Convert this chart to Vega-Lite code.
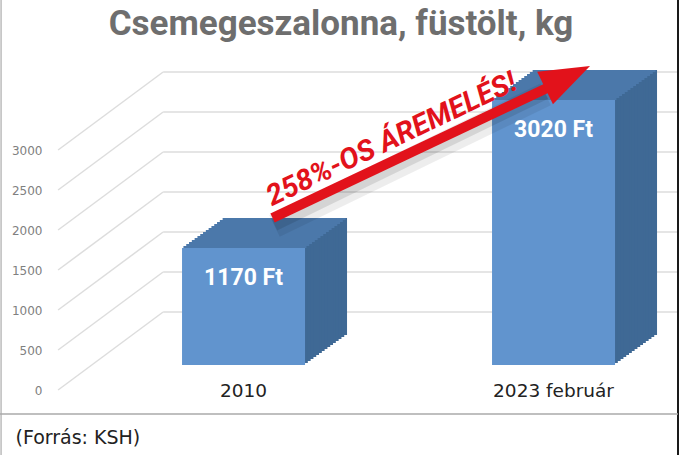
{
  "$schema": "https://vega.github.io/schema/vega-lite/v6.json",
  "autosize": {"type": "none"},
  "padding": {"left": 58, "top": 50, "right": 7, "bottom": 65},
  "width": 620,
  "height": 340,
  "background": "white",
  "config": {"view": {"stroke": null}},
  "title": {
    "text": "Csemegeszalonna, füstölt, kg",
    "font": "Roboto",
    "fontSize": 35,
    "fontWeight": "bold",
    "color": "#6e6e6e",
    "anchor": "middle",
    "baseline": "alphabetic",
    "dx": -27,
    "offset": -71
  },
  "data": {"values": [{"period": "2010", "price": 1170}, {"period": "2023 február", "price": 3020}]},
  "layer": [
    {
      "data": {"values": [{"level": 0}, {"level": 500}, {"level": 1000}, {"level": 1500}, {"level": 2000}, {"level": 2500}, {"level": 3000}]},
      "mark": {"type": "rule", "color": "#dddddd", "strokeWidth": 1.5, "yOffset": 48.4, "y2Offset": -29.6},
      "encoding": {
        "x": {"datum": "2010", "type": "nominal", "bandPosition": -0.245},
        "x2": {"datum": "2010", "bandPosition": 0.177},
        "y": {"field": "level", "type": "quantitative"},
        "y2": {"field": "level"}
      }
    },
    {
      "data": {"values": [{"level": 0}, {"level": 500}, {"level": 1000}, {"level": 1500}, {"level": 2000}, {"level": 2500}, {"level": 3000}]},
      "mark": {"type": "rule", "color": "#dddddd", "strokeWidth": 1.5, "yOffset": -29.6, "y2Offset": -29.6},
      "encoding": {
        "x": {"datum": "2010", "type": "nominal", "bandPosition": 0.177},
        "x2": {"datum": "2023 február", "bandPosition": 1},
        "y": {"field": "level", "type": "quantitative"},
        "y2": {"field": "level"}
      }
    },
    {
      "data": {"values": [{}]},
      "mark": {"type": "rule", "color": "#bbbbbb", "strokeWidth": 1.5},
      "encoding": {
        "x": {"datum": "2010", "type": "nominal", "bandPosition": -0.474},
        "y": {"datum": 4270, "type": "quantitative"},
        "y2": {"datum": -1417}
      }
    },
    {
      "data": {"values": [{}]},
      "mark": {"type": "rule", "color": "#1a1a1a", "strokeWidth": 2},
      "encoding": {
        "x": {"datum": "2023 február", "type": "nominal", "bandPosition": 1},
        "y": {"datum": 4270, "type": "quantitative"},
        "y2": {"datum": -1417}
      }
    },
    {
      "data": {"values": [{}]},
      "mark": {"type": "rule", "color": "#aaaaaa", "strokeWidth": 1.5},
      "encoding": {
        "x": {"datum": "2010", "type": "nominal", "bandPosition": -0.5},
        "x2": {"datum": "2023 február", "bandPosition": 1},
        "y": {"datum": -905, "type": "quantitative"}
      }
    },
    {
      "encoding": {
        "x": {
          "field": "period",
          "type": "nominal",
          "scale": {"paddingInner": 0.197, "paddingOuter": 0.0985, "align": 1},
          "axis": {
            "labelAngle": 0,
            "labelAlign": "center",
            "labelFont": "DejaVu Sans",
            "labelFontSize": 18.5,
            "labelColor": "#222222",
            "labelBaseline": "middle",
            "labelPadding": 0,
            "ticks": false,
            "tickSize": 0,
            "domain": false,
            "grid": false,
            "labelOverlap": false,
            "title": "(Forrás: KSH)",
            "titleFont": "DejaVu Sans",
            "titleFontSize": 19,
            "titleFontWeight": "normal",
            "titleColor": "#222222",
            "titleX": -43,
            "titleY": 47,
            "titleAlign": "left",
            "titleAnchor": "start",
            "titleBaseline": "middle"
          }
        },
        "y": {
          "field": "price",
          "type": "quantitative",
          "scale": {"domain": [-605, 3645], "nice": false},
          "axis": {
            "values": [0, 500, 1000, 1500, 2000, 2500, 3000],
            "format": "d",
            "labelOffset": 48.4,
            "labelFont": "DejaVu Sans",
            "labelFontSize": 12,
            "labelColor": "#808080",
            "labelPadding": 16,
            "labelBaseline": "middle",
            "ticks": false,
            "tickSize": 0,
            "domain": false,
            "grid": false,
            "title": null
          }
        }
      },
      "layer": [
        {"mark": {"type": "bar", "width": 123, "color": "#3f6995", "xOffset": 42, "yOffset": -30, "y2Offset": -6.6}, "encoding": {"y2": {"datum": 0}}},
        {"mark": {"type": "bar", "width": 123, "color": "#3f6995", "xOffset": 39.2, "yOffset": -28, "y2Offset": -4.6}, "encoding": {"y2": {"datum": 0}}},
        {"mark": {"type": "bar", "width": 123, "color": "#3f6995", "xOffset": 36.4, "yOffset": -26, "y2Offset": -2.6}, "encoding": {"y2": {"datum": 0}}},
        {"mark": {"type": "bar", "width": 123, "color": "#3f6995", "xOffset": 33.6, "yOffset": -24, "y2Offset": -0.6}, "encoding": {"y2": {"datum": 0}}},
        {"mark": {"type": "bar", "width": 123, "color": "#3f6995", "xOffset": 30.8, "yOffset": -22, "y2Offset": 1.4}, "encoding": {"y2": {"datum": 0}}},
        {"mark": {"type": "bar", "width": 123, "color": "#3f6995", "xOffset": 28, "yOffset": -20, "y2Offset": 3.4}, "encoding": {"y2": {"datum": 0}}},
        {"mark": {"type": "bar", "width": 123, "color": "#3f6995", "xOffset": 25.2, "yOffset": -18, "y2Offset": 5.4}, "encoding": {"y2": {"datum": 0}}},
        {"mark": {"type": "bar", "width": 123, "color": "#3f6995", "xOffset": 22.4, "yOffset": -16, "y2Offset": 7.4}, "encoding": {"y2": {"datum": 0}}},
        {"mark": {"type": "bar", "width": 123, "color": "#3f6995", "xOffset": 19.6, "yOffset": -14, "y2Offset": 9.4}, "encoding": {"y2": {"datum": 0}}},
        {"mark": {"type": "bar", "width": 123, "color": "#3f6995", "xOffset": 16.8, "yOffset": -12, "y2Offset": 11.4}, "encoding": {"y2": {"datum": 0}}},
        {"mark": {"type": "bar", "width": 123, "color": "#3f6995", "xOffset": 14, "yOffset": -10, "y2Offset": 13.4}, "encoding": {"y2": {"datum": 0}}},
        {"mark": {"type": "bar", "width": 123, "color": "#3f6995", "xOffset": 11.2, "yOffset": -8, "y2Offset": 15.4}, "encoding": {"y2": {"datum": 0}}},
        {"mark": {"type": "bar", "width": 123, "color": "#3f6995", "xOffset": 8.4, "yOffset": -6, "y2Offset": 17.4}, "encoding": {"y2": {"datum": 0}}},
        {"mark": {"type": "bar", "width": 123, "color": "#3f6995", "xOffset": 5.6, "yOffset": -4, "y2Offset": 19.4}, "encoding": {"y2": {"datum": 0}}},
        {"mark": {"type": "bar", "width": 123, "color": "#3f6995", "xOffset": 2.8, "yOffset": -2, "y2Offset": 21.4}, "encoding": {"y2": {"datum": 0}}},
        {"mark": {"type": "bar", "width": 123, "color": "#4b78aa", "xOffset": 1.4, "yOffset": -2, "y2Offset": 0}, "encoding": {"y2": {"field": "price"}}},
        {"mark": {"type": "bar", "width": 123, "color": "#4b78aa", "xOffset": 4.2, "yOffset": -4, "y2Offset": -2}, "encoding": {"y2": {"field": "price"}}},
        {"mark": {"type": "bar", "width": 123, "color": "#4b78aa", "xOffset": 7, "yOffset": -6, "y2Offset": -4}, "encoding": {"y2": {"field": "price"}}},
        {"mark": {"type": "bar", "width": 123, "color": "#4b78aa", "xOffset": 9.8, "yOffset": -8, "y2Offset": -6}, "encoding": {"y2": {"field": "price"}}},
        {"mark": {"type": "bar", "width": 123, "color": "#4b78aa", "xOffset": 12.6, "yOffset": -10, "y2Offset": -8}, "encoding": {"y2": {"field": "price"}}},
        {"mark": {"type": "bar", "width": 123, "color": "#4b78aa", "xOffset": 15.4, "yOffset": -12, "y2Offset": -10}, "encoding": {"y2": {"field": "price"}}},
        {"mark": {"type": "bar", "width": 123, "color": "#4b78aa", "xOffset": 18.2, "yOffset": -14, "y2Offset": -12}, "encoding": {"y2": {"field": "price"}}},
        {"mark": {"type": "bar", "width": 123, "color": "#4b78aa", "xOffset": 21, "yOffset": -16, "y2Offset": -14}, "encoding": {"y2": {"field": "price"}}},
        {"mark": {"type": "bar", "width": 123, "color": "#4b78aa", "xOffset": 23.8, "yOffset": -18, "y2Offset": -16}, "encoding": {"y2": {"field": "price"}}},
        {"mark": {"type": "bar", "width": 123, "color": "#4b78aa", "xOffset": 26.6, "yOffset": -20, "y2Offset": -18}, "encoding": {"y2": {"field": "price"}}},
        {"mark": {"type": "bar", "width": 123, "color": "#4b78aa", "xOffset": 29.4, "yOffset": -22, "y2Offset": -20}, "encoding": {"y2": {"field": "price"}}},
        {"mark": {"type": "bar", "width": 123, "color": "#4b78aa", "xOffset": 32.2, "yOffset": -24, "y2Offset": -22}, "encoding": {"y2": {"field": "price"}}},
        {"mark": {"type": "bar", "width": 123, "color": "#4b78aa", "xOffset": 35, "yOffset": -26, "y2Offset": -24}, "encoding": {"y2": {"field": "price"}}},
        {"mark": {"type": "bar", "width": 123, "color": "#4b78aa", "xOffset": 37.8, "yOffset": -28, "y2Offset": -26}, "encoding": {"y2": {"field": "price"}}},
        {"mark": {"type": "bar", "width": 123, "color": "#4b78aa", "xOffset": 40.6, "yOffset": -30, "y2Offset": -28}, "encoding": {"y2": {"field": "price"}}},
        {"mark": {"type": "bar", "width": 123, "color": "#6194ce", "y2Offset": 23.4}, "encoding": {"y2": {"datum": 0}}},
        {
          "transform": [{"calculate": "datum.price + ' Ft'", "as": "label"}],
          "mark": {"type": "text", "font": "Roboto", "fontSize": 23, "fontWeight": "bold", "color": "white", "baseline": "middle", "align": "center", "yOffset": 30},
          "encoding": {"text": {"field": "label"}}
        }
      ]
    },
    {
      "data": {"values": [{}]},
      "mark": {"type": "rule", "color": "#000000", "opacity": 0.07, "strokeWidth": 24, "yOffset": 8, "y2Offset": 8, "xOffset": 31, "x2Offset": -8},
      "encoding": {
        "x": {"datum": "2010", "type": "nominal"},
        "x2": {"datum": "2023 február"},
        "y": {"datum": 1545, "type": "quantitative"},
        "y2": {"datum": 3190}
      }
    },
    {
      "data": {"values": [{}]},
      "mark": {"type": "rule", "color": "#000000", "opacity": 0.1, "strokeWidth": 12, "yOffset": 7, "y2Offset": 7, "xOffset": 31, "x2Offset": -8},
      "encoding": {
        "x": {"datum": "2010", "type": "nominal"},
        "x2": {"datum": "2023 február"},
        "y": {"datum": 1545, "type": "quantitative"},
        "y2": {"datum": 3190}
      }
    },
    {
      "data": {"values": [{}]},
      "mark": {"type": "rule", "color": "#e2121b", "strokeWidth": 10, "strokeCap": "butt", "xOffset": 29, "x2Offset": -6.5},
      "encoding": {
        "x": {"datum": "2010", "type": "nominal"},
        "x2": {"datum": "2023 február"},
        "y": {"datum": 1545, "type": "quantitative"},
        "y2": {"datum": 3170}
      }
    },
    {
      "data": {"values": [{}]},
      "mark": {"type": "point", "shape": "M1,0L-1,-0.72L-1,0.72Z", "size": 2500, "angle": -26, "filled": true, "color": "#e2121b", "opacity": 1, "strokeWidth": 0, "xOffset": 14},
      "encoding": {
        "x": {"datum": "2023 február", "type": "nominal"},
        "y": {"datum": 3307, "type": "quantitative"}
      }
    },
    {
      "data": {"values": [{}]},
      "mark": {"type": "text", "text": "258%-OS ÁREMELÉS!", "font": "Roboto", "fontSize": 29, "fontWeight": "bold", "fontStyle": "italic", "color": "#e2121b", "angle": -25.5, "align": "center", "baseline": "middle", "xOffset": 148},
      "encoding": {
        "x": {"datum": "2010", "type": "nominal"},
        "y": {"datum": 2530, "type": "quantitative"}
      }
    }
  ]
}
